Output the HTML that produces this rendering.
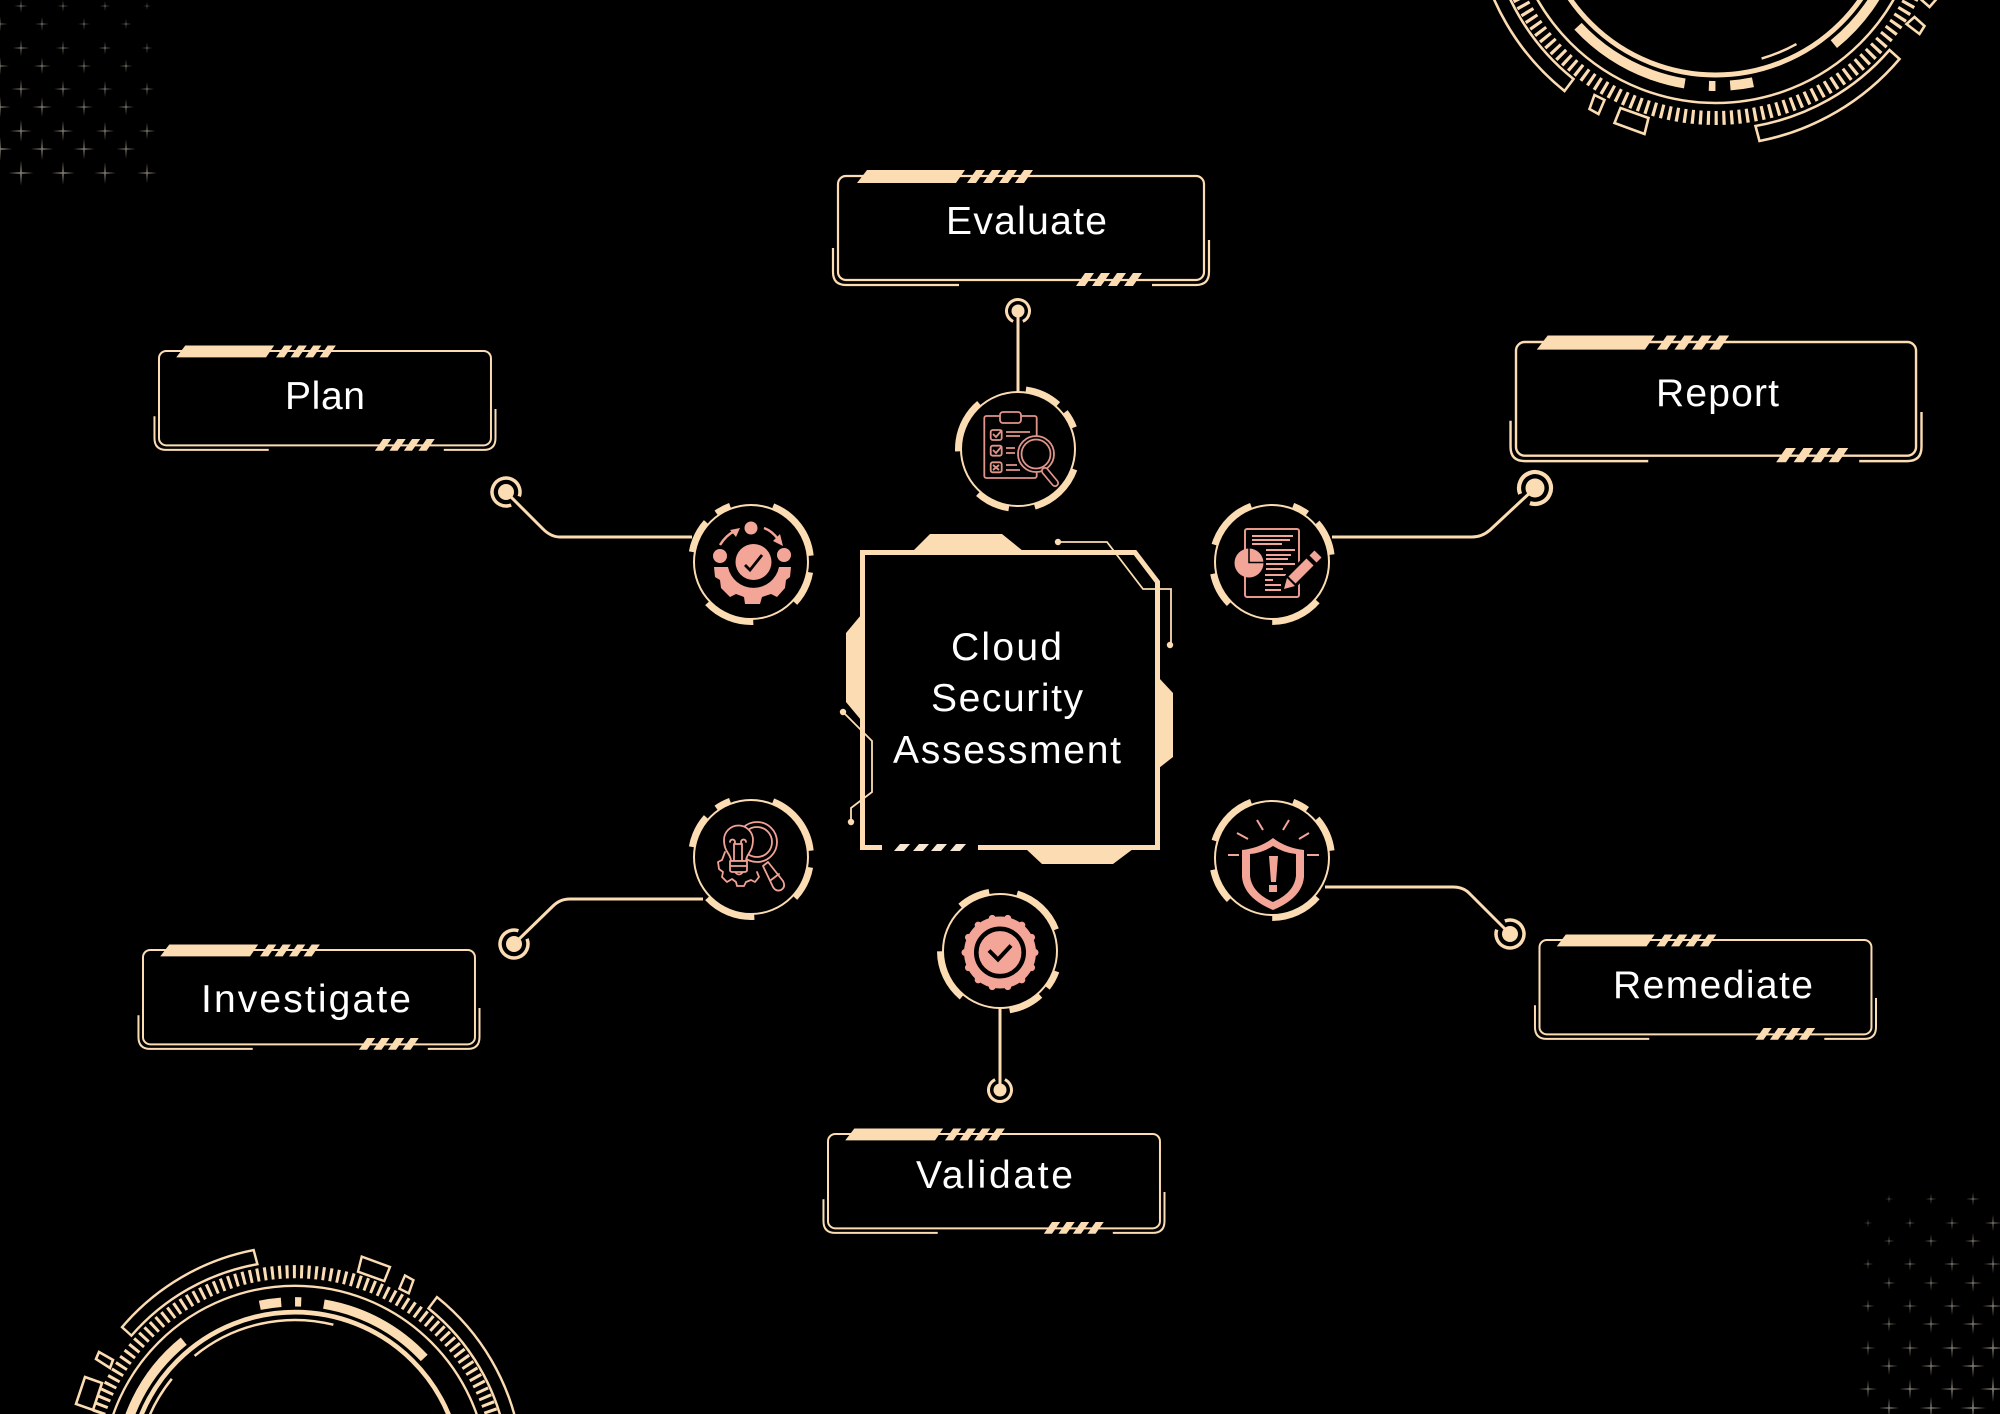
<!DOCTYPE html>
<html lang="en">
<head>
<meta charset="utf-8">
<title>Cloud Security Assessment</title>
<style>
html,body{margin:0;padding:0;background:#000;width:2000px;height:1414px;overflow:hidden;}
svg{display:block;overflow:hidden;}
text{font-family:"Liberation Sans",sans-serif;font-size:39px;fill:#fff;text-anchor:start;}
</style>
</head>
<body>
<svg xmlns="http://www.w3.org/2000/svg" width="2000" height="1414" viewBox="0 0 2000 1414">
<defs>
  <path id="st" d="M0,-1 L.07,-.07 L1,0 L.07,.07 L0,1 L-.07,.07 L-1,0 L-.07,-.07 Z" fill="#7a756a"/>
  <g id="box">
    <rect x="0" y="0" width="366" height="104" rx="8" fill="none" stroke="#fcdcb2" stroke-width="2.2"/>
    <path d="M-5,72 V96 Q-5,109 8,109 H121 M371,64 V96 Q371,109 358,109 H314" fill="none" stroke="#fcdcb2" stroke-width="2.2"/>
    <g fill="#fcdcb2">
      <polygon points="19,7 29,-6 127,-6 118,7"/>
      <polygon points="129,7 138,-6 147,-6 138,7"/>
      <polygon points="145,7 154,-6 163,-6 154,7"/>
      <polygon points="161,7 170,-6 179,-6 170,7"/>
      <polygon points="177,7 186,-6 195,-6 186,7"/>
      <polygon points="238,110 247,97 256,97 247,110"/>
      <polygon points="254,110 263,97 272,97 263,110"/>
      <polygon points="270,110 279,97 288,97 279,110"/>
      <polygon points="286,110 295,97 304,97 295,110"/>
    </g>
  </g>
  <g id="ring" fill="none" stroke="#fcdcb2">
    <circle cx="1713" cy="-103" r="177" stroke-width="5"/>
    <circle cx="1713" cy="-103" r="205" stroke-width="2.5"/>
    <circle cx="1713" cy="-103" r="188" stroke-width="10" pathLength="360" stroke-dasharray="31 27.5 7 4.5 2 7.4 37.6 243" transform="rotate(20 1713 -103)"/>
    <circle cx="1713" cy="-103" r="220" stroke-width="14" stroke-dasharray="3.2 4.6"/>
    <path stroke-width="2.6" d="M1753,125 A231,231 0 0 0 1887,49 L1897,58 A245,245 0 0 1 1757,140 Z"/>
    <path stroke-width="2.6" d="M1474,-61 A243,243 0 0 0 1562,90 L1571,78 A228,228 0 0 1 1488.5,-63"/>
    <polygon stroke-width="2.6" points="1618,107 1646,117 1642,133 1612,122"/>
    <polygon stroke-width="2.6" points="1592,94 1602,99 1596,113 1587,108"/>
  </g>
</defs>
<rect width="2000" height="1414" fill="#000"/>

<!-- stars top-left -->
<g>
<use href="#st" transform="translate(21,6) scale(6.8)"/><use href="#st" transform="translate(63,6) scale(5.9)"/><use href="#st" transform="translate(105,6) scale(5.1)"/><use href="#st" transform="translate(147,6) scale(4.2)"/>
<use href="#st" transform="translate(0,24) scale(7.8)"/><use href="#st" transform="translate(42,24) scale(7)"/><use href="#st" transform="translate(84,24) scale(6.1)"/><use href="#st" transform="translate(126,24) scale(5.3)"/>
<use href="#st" transform="translate(21,48) scale(8.2)"/><use href="#st" transform="translate(63,48) scale(7.4)"/><use href="#st" transform="translate(105,48) scale(6.5)"/><use href="#st" transform="translate(147,48) scale(5.7)"/>
<use href="#st" transform="translate(0,66) scale(9.3)"/><use href="#st" transform="translate(42,66) scale(8.4)"/><use href="#st" transform="translate(84,66) scale(7.6)"/><use href="#st" transform="translate(126,66) scale(6.7)"/>
<use href="#st" transform="translate(21,89) scale(9.7)"/><use href="#st" transform="translate(63,89) scale(8.8)"/><use href="#st" transform="translate(105,89) scale(8)"/><use href="#st" transform="translate(147,89) scale(7.1)"/>
<use href="#st" transform="translate(0,107) scale(10.7)"/><use href="#st" transform="translate(42,107) scale(9.9)"/><use href="#st" transform="translate(84,107) scale(9)"/><use href="#st" transform="translate(126,107) scale(8.1)"/>
<use href="#st" transform="translate(21,131) scale(11.1)"/><use href="#st" transform="translate(63,131) scale(10.3)"/><use href="#st" transform="translate(105,131) scale(9.4)"/><use href="#st" transform="translate(147,131) scale(8.5)"/>
<use href="#st" transform="translate(0,149) scale(12.2)"/><use href="#st" transform="translate(42,149) scale(11.3)"/><use href="#st" transform="translate(84,149) scale(10.5)"/><use href="#st" transform="translate(126,149) scale(9.6)"/>
<use href="#st" transform="translate(21,173) scale(12.6)"/><use href="#st" transform="translate(63,173) scale(11.7)"/><use href="#st" transform="translate(105,173) scale(10.9)"/><use href="#st" transform="translate(147,173) scale(10)"/>
</g>
<!-- stars bottom-right -->
<g>
<use href="#st" transform="translate(1889,1199) scale(4.2)"/><use href="#st" transform="translate(1931,1199) scale(5.5)"/><use href="#st" transform="translate(1973,1199) scale(6.9)"/>
<use href="#st" transform="translate(1868,1223) scale(4.2)"/><use href="#st" transform="translate(1910,1223) scale(5.5)"/><use href="#st" transform="translate(1952,1223) scale(6.9)"/><use href="#st" transform="translate(1993,1223) scale(8.2)"/>
<use href="#st" transform="translate(1889,1241) scale(5.4)"/><use href="#st" transform="translate(1931,1241) scale(6.7)"/><use href="#st" transform="translate(1973,1241) scale(8.1)"/>
<use href="#st" transform="translate(1868,1264) scale(5.4)"/><use href="#st" transform="translate(1910,1264) scale(6.7)"/><use href="#st" transform="translate(1952,1264) scale(8.1)"/><use href="#st" transform="translate(1993,1264) scale(9.4)"/>
<use href="#st" transform="translate(1889,1283) scale(6.6)"/><use href="#st" transform="translate(1931,1283) scale(7.9)"/><use href="#st" transform="translate(1973,1283) scale(9.3)"/>
<use href="#st" transform="translate(1868,1306) scale(6.6)"/><use href="#st" transform="translate(1910,1306) scale(7.9)"/><use href="#st" transform="translate(1952,1306) scale(9.3)"/><use href="#st" transform="translate(1993,1306) scale(10.6)"/>
<use href="#st" transform="translate(1889,1324) scale(7.8)"/><use href="#st" transform="translate(1931,1324) scale(9.1)"/><use href="#st" transform="translate(1973,1324) scale(10.5)"/>
<use href="#st" transform="translate(1868,1348) scale(7.8)"/><use href="#st" transform="translate(1910,1348) scale(9.1)"/><use href="#st" transform="translate(1952,1348) scale(10.5)"/><use href="#st" transform="translate(1993,1348) scale(11.8)"/>
<use href="#st" transform="translate(1889,1366) scale(9)"/><use href="#st" transform="translate(1931,1366) scale(10.3)"/><use href="#st" transform="translate(1973,1366) scale(11.7)"/>
<use href="#st" transform="translate(1868,1389) scale(9)"/><use href="#st" transform="translate(1910,1389) scale(10.3)"/><use href="#st" transform="translate(1952,1389) scale(11.6)"/><use href="#st" transform="translate(1993,1389) scale(13)"/>
<use href="#st" transform="translate(1889,1408) scale(10.2)"/><use href="#st" transform="translate(1931,1408) scale(11.5)"/><use href="#st" transform="translate(1973,1408) scale(12.9)"/>
</g>

<!-- HUD ring top-right -->
<g transform="translate(2.5,1)">
  <use href="#ring"/>
  <circle cx="1713" cy="-103" r="167" fill="none" stroke="#fcdcb2" stroke-width="2.5" pathLength="360" stroke-dasharray="13 347" transform="rotate(61 1713 -103)"/>
  <g fill="none" stroke="#fcdcb2" stroke-width="2.6">
    <polygon points="1912,16 1922,25 1917,33 1904,23"/>
    <path d="M1918,-2 L1927,6 L1934,-2"/>
  </g>
</g>
<!-- HUD ring bottom-left -->
<use href="#ring" transform="translate(295,1478.5) rotate(180) scale(.94) translate(-1713,103)"/>
<circle cx="295" cy="1478.5" r="158.5" fill="none" stroke="#fcdcb2" stroke-width="2.5" pathLength="360" stroke-dasharray="24 11.7 53.3 271" transform="rotate(195 295 1478.5)"/>
<g fill="none" stroke="#fcdcb2" stroke-width="2.6">
  <polygon points="85,1377 102,1383 93,1410 76,1404"/>
  <polygon points="99,1352 113,1360 110,1368 96,1359"/>
</g>

<!-- label boxes -->
<use href="#box" transform="translate(838,176)"/>
<use href="#box" transform="translate(159,351) scale(.907)"/>
<use href="#box" transform="translate(1516,342) scale(1.093)"/>
<use href="#box" transform="translate(143,950) scale(.907)"/>
<use href="#box" transform="translate(1539.5,940) scale(.907)"/>
<use href="#box" transform="translate(828,1134) scale(.907)"/>

<text x="946" y="234" textLength="161" lengthAdjust="spacing">Evaluate</text>
<text x="285" y="409" textLength="80" lengthAdjust="spacing">Plan</text>
<text x="1656" y="406" textLength="123" lengthAdjust="spacing">Report</text>
<text x="201" y="1012" textLength="210" lengthAdjust="spacing">Investigate</text>
<text x="1613" y="998" textLength="200" lengthAdjust="spacing">Remediate</text>
<text x="916" y="1188" textLength="157" lengthAdjust="spacing">Validate</text>

<!-- central frame -->
<g fill="#fcdcb2">
  <polygon points="913,551 930,534 1002,534 1023,551"/>
  <polygon points="861,615 846,633 846,702 861,720"/>
  <polygon points="1159,678 1173,693 1173,757 1159,768"/>
  <polygon points="1026,849 1042,864 1113,864 1133,849"/>
</g>
<path d="M882,847.5 H862.5 V552.5 H1135 L1157.5,582 V847.5 H978" fill="none" stroke="#fcdcb2" stroke-width="5"/>
<g fill="#f6e6d4">
  <polygon points="894,851 900,844 910,844 904,851"/>
  <polygon points="913,851 919,844 929,844 923,851"/>
  <polygon points="931,851 937,844 947,844 941,851"/>
  <polygon points="950,851 956,844 966,844 960,851"/>
</g>
<g fill="none" stroke="#fcdcb2" stroke-width="1.8">
  <path d="M1058,542 H1107 L1143,589 H1171 V645"/>
  <path d="M843,712 L872,741 V792 L851,808 V822"/>
</g>
<g fill="#fcdcb2">
  <circle cx="1058" cy="542" r="3.2"/><circle cx="1170" cy="645" r="3.2"/>
  <circle cx="843" cy="712" r="3.2"/><circle cx="851" cy="822" r="3.2"/>
</g>
<text x="951" y="660" textLength="111" lengthAdjust="spacing">Cloud</text>
<text x="931" y="711" textLength="152" lengthAdjust="spacing">Security</text>
<text x="893" y="763" textLength="228" lengthAdjust="spacing">Assessment</text>

<!-- connectors -->
<g fill="none" stroke="#fcdcb2" stroke-width="3">
  <path d="M1018,312 V392"/>
  <path d="M1000,1007 V1090"/>
  <path d="M506,492 L543,529 Q551,537 560,537 H692"/>
  <path d="M1535,488 L1490,530 Q1482,537 1472,537 H1332"/>
  <path d="M514,944 L553,906 Q560,899 570,899 H703"/>
  <path d="M1510,934 L1469,893 Q1463,887 1453,887 H1325"/>
</g>
<!-- terminals -->
<g fill="#fcdcb2">
  <circle cx="1018" cy="311" r="6.5"/><circle cx="1000" cy="1090" r="6.5"/>
  <circle cx="506" cy="492" r="8"/><circle cx="1535" cy="488" r="9.5"/>
  <circle cx="514" cy="944" r="8"/><circle cx="1510" cy="934" r="8"/>
</g>
<g fill="none" stroke="#fcdcb2">
  <circle cx="1018" cy="311" r="11.5" stroke-width="3" pathLength="360" stroke-dasharray="310 50" transform="rotate(115 1018 311)"/>
  <circle cx="1000" cy="1090" r="11.5" stroke-width="3" pathLength="360" stroke-dasharray="310 50" transform="rotate(295 1000 1090)"/>
  <circle cx="506" cy="492" r="14" stroke-width="3.5" pathLength="360" stroke-dasharray="310 50" transform="rotate(70 506 492)"/>
  <circle cx="1535" cy="488" r="16" stroke-width="4.2" pathLength="360" stroke-dasharray="310 50" transform="rotate(160 1535 488)"/>
  <circle cx="514" cy="944" r="14" stroke-width="3.5" pathLength="360" stroke-dasharray="310 50" transform="rotate(340 514 944)"/>
  <circle cx="1510" cy="934" r="14" stroke-width="3.5" pathLength="360" stroke-dasharray="310 50" transform="rotate(250 1510 934)"/>
</g>

<!-- Evaluate icon -->
<g transform="translate(1018,449)">
  <circle r="57" fill="#000" stroke="#fcdcb2" stroke-width="2"/>
  <circle r="60" fill="none" stroke="#fcdcb2" stroke-width="6" pathLength="360" stroke-dasharray="34 10 17 41 54 25 33 46 52 48" transform="rotate(-82)"/>
  <g fill="none" stroke="#e0958a" stroke-width="1.8" transform="translate(0,-1)">
    <rect x="-33.7" y="-32" width="52.4" height="62" rx="2"/>
    <rect x="-18" y="-36" width="21" height="11" rx="3" fill="#000"/>
    <rect x="-27.3" y="-18" width="11" height="10" rx="2"/>
    <rect x="-27.3" y="-2.3" width="11" height="10" rx="2"/>
    <rect x="-27.3" y="14.3" width="11" height="10" rx="2"/>
    <path d="M-25,-14 l3,3 l6,-7 M-25,2 l3,3 l6,-7 M-25,17 l6,5 M-19,17 l-6,5"/>
    <path d="M-12,-16 H12 M-12,-12 H2 M-12,0 H-3 M-12,5 H-3 M-12,17 H-1 M-12,22 H2"/>
    <circle cx="18" cy="6" r="18" fill="#000"/>
    <circle cx="18" cy="6" r="14.5"/>
    <path d="M27,23 L37,35" stroke-width="8" stroke-linecap="round"/>
    <path d="M27,23 L37,35" stroke-width="4.5" stroke-linecap="round" stroke="#000"/>
  </g>
</g>

<!-- Plan icon -->
<g transform="translate(751,562)">
  <circle r="57" fill="#000" stroke="#fcdcb2" stroke-width="2"/>
  <circle r="60" fill="none" stroke="#fcdcb2" stroke-width="6" pathLength="360" stroke-dasharray="62 16 33 45 49 53 32 13 15 42" transform="rotate(-68)"/>
  <g transform="translate(0,-1)">
    <g fill="#f3a698">
      <circle cx="0" cy="-33" r="6.5"/><circle cx="-31" cy="-5" r="7"/><circle cx="33" cy="-6" r="7"/>
      <circle cx="2.5" cy="1" r="18"/>
      <path d="M-37,6 L-36,16 L-31,19 L-30,27 L-21,36 L-15,33 L-7,36 L-6,43 L9,43 L11,36 L20,33 L26,36 L34,27 L35,19 L39,16 L40,6 L28,6 A26,26 0 0 1 -23,6 Z"/>
      <polygon points="-11,-33 -21,-31 -15,-24"/>
      <polygon points="32,-15 22,-20 29,-27"/>
    </g>
    <path d="M-31,-16 Q-25,-26 -16,-30 M13,-33 Q21,-30 27,-22" fill="none" stroke="#f3a698" stroke-width="2.5"/>
    <path d="M-6,4 L-1,9 L11,-6" fill="none" stroke="#000" stroke-width="2.8"/>
  </g>
</g>

<!-- Report icon -->
<g transform="translate(1272,562)">
  <circle r="57" fill="#000" stroke="#fcdcb2" stroke-width="2"/>
  <circle r="60" fill="none" stroke="#fcdcb2" stroke-width="6" pathLength="360" stroke-dasharray="15 13 34 48 49 46 33 28 53 41" transform="rotate(-69)"/>
  <g transform="translate(0,-1)">
    <rect x="-27" y="-32" width="54" height="68" rx="2" fill="none" stroke="#e8998c" stroke-width="2"/>
    <path d="M-20,-25 H21 M-20,-21 H18 M-20,-17 H10 M-6,-11 H23 M-6,-6 H19 M-6,-2 H16 M-6,3 H23 M-6,8 H11 M-7,14 H14 M-7,19 H1 M-7,24 H9 M-7,29 H9" fill="none" stroke="#f3a698" stroke-width="2"/>
    <circle cx="-23" cy="2" r="14.5" fill="#f3a698"/>
    <path d="M-23,-13 V1.5 H-8" fill="none" stroke="#000" stroke-width="1.5"/>
    <path d="M15,24 L42,-3" stroke="#000" stroke-width="16"/>
    <path d="M20,19 L38,1" stroke="#f3a698" stroke-width="10"/>
    <path d="M41,-2 L46,-7" stroke="#f3a698" stroke-width="10"/>
    <polygon points="12,28 15,17 23,25" fill="#f3a698"/>
  </g>
</g>

<!-- Investigate icon -->
<g transform="translate(751,857)">
  <circle r="57" fill="#000" stroke="#fcdcb2" stroke-width="2"/>
  <circle r="60" fill="none" stroke="#fcdcb2" stroke-width="6" pathLength="360" stroke-dasharray="62 16 33 44 50 53 32 13 15 42" transform="rotate(-68)"/>
  <g fill="none" stroke="#f0a295" stroke-width="1.8" stroke-linejoin="round" stroke-linecap="round" transform="translate(0,-1)">
    <path d="M-26,-4 L-29,4 L-33,6 L-32,13 L-28,16 L-29,21 L-24,26 L-19,23 L-15,26 L-14,30 L-7,30 L-5,26 L0,24 L4,26 L8,21 L6,16"/>
    <circle cx="6" cy="-14" r="20"/>
    <circle cx="6" cy="-14" r="15"/>
    <path d="M12,10 L17,6 L32,25 Q35,31 30,34 Q25,36 22,31 Z"/>
    <path d="M20,24 L28,18"/>
    <path d="M-20,5 C-20,-2 -27,-4 -27,-16 A14.5,14.5 0 0 1 2,-16 C2,-4 -5,-2 -5,5 Z" fill="#000"/>
    <path d="M-17,4 V-12 M-9,4 V-12 M-21,-14 a2.5,2.5 0 1 1 4,2 H-9 a2.5,2.5 0 1 1 4,-2"/>
    <path d="M-21,5 H-4 M-21,10 H-4 V10 M-21,5 V14 Q-21,16 -18,16 H-7 Q-4,16 -4,14 V5 M-16,16 Q-12,21 -8,16" fill="#000"/>
  </g>
</g>

<!-- Remediate icon -->
<g transform="translate(1272,858)">
  <circle r="57" fill="#000" stroke="#fcdcb2" stroke-width="2"/>
  <circle r="60" fill="none" stroke="#fcdcb2" stroke-width="6" pathLength="360" stroke-dasharray="15 13 34 48 49 46 33 28 53 41" transform="rotate(-69)"/>
  <g transform="translate(0,-1)">
    <path d="M1,-19 Q14,-9 32,-7 V20 Q30,41 1,53 Q-28,41 -30,20 V-7 Q-12,-9 1,-19 Z" fill="#f3a698"/>
    <path d="M1,-11 Q12,-4 24,-3 V19 Q22,36 1,45 Q-20,36 -22,19 V-3 Q-10,-4 1,-11 Z" fill="#000"/>
    <polygon points="-3,-1 6,-1 4,25 -1,25" fill="#f3a698"/>
    <rect x="-3" y="28" width="8" height="7" fill="#f3a698"/>
    <path d="M-15,-37 L-9,-27 M17,-37 L11,-27 M-35,-24 L-24,-18 M37,-24 L27,-18 M-44,-2 H-33 M35,-2 H47" fill="none" stroke="#f3a698" stroke-width="2"/>
  </g>
</g>

<!-- Validate icon -->
<g transform="translate(1000,951)">
  <circle r="57" fill="#000" stroke="#fcdcb2" stroke-width="2"/>
  <circle r="60" fill="none" stroke="#fcdcb2" stroke-width="6" pathLength="360" stroke-dasharray="52 41 18 10 33 49 50 49 31 27" transform="rotate(-73)"/>
  <g transform="translate(0,1.5)">
    <circle r="36" fill="#f3a698"/>
    <circle r="35" fill="none" stroke="#f3a698" stroke-width="7" stroke-linecap="round" pathLength="14" stroke-dasharray="0 1"/>
    <circle r="23.7" fill="none" stroke="#000" stroke-width="4.6"/>
    <path d="M-11,-2 L-2,7 L11,-7" fill="none" stroke="#000" stroke-width="4"/>
  </g>
</g>
</svg>
</body>
</html>
